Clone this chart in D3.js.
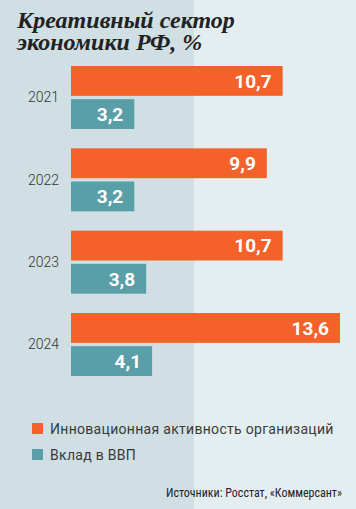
<!DOCTYPE html>
<html><head><meta charset="utf-8">
<script src="https://cdn.jsdelivr.net/npm/d3@7"></script>
<style>html,body{margin:0;padding:0;background:#e4eef0;}svg{display:block;}</style>
</head><body>
<script>
const years = ["2021","2022","2023","2024"];
const innovation = [10.7, 9.9, 10.7, 13.6];
const gdpShare = [3.2, 3.2, 3.8, 4.1];
const seriesNames = ["Инновационная активность организаций","Вклад в ВВП"];
const seriesColors = ["#f4622a","#5a9ea7"];
const titleLines = ["Креативный сектор","экономики РФ, %"];
const sourceText = "Источники: Росстат, «Коммерсант»";

const W = 356, H = 509;
const svg = d3.select("body").append("svg").attr("width", W).attr("height", H);
svg.append("rect").attr("width", W).attr("height", H).attr("fill", "#e4eef0");
svg.append("rect").attr("width", 194).attr("height", H).attr("fill", "#cfdfe3");

const title = svg.append("text")
  .attr("font-family", "'Liberation Serif', serif").attr("font-style","italic").attr("font-weight","bold")
  .attr("font-size", 24).attr("fill", "#222");
title.selectAll("tspan").data(titleLines).join("tspan")
  .attr("x", 17).attr("y", (d,i) => 28 + i*22).text(d => d);

const x = d3.scaleLinear().domain([0, 13.6]).range([71, 340]);
const y = d3.scaleBand().domain(years).range([66, 376]).paddingInner(0.235).paddingOuter(0);
const ySub = d3.scaleBand().domain([0,1]).range([0, y.bandwidth()]).paddingInner(0.1);

const rows = years.map((yr,i) => ({yr, vals:[innovation[i], gdpShare[i]]}));
const g = svg.selectAll("g.row").data(rows).join("g").attr("transform", d => `translate(0,${y(d.yr)})`);
g.append("text").attr("x", 59).attr("y", y.bandwidth()/2).attr("dy","0.35em")
  .attr("text-anchor","end").attr("font-family","Roboto, sans-serif").attr("font-weight",300)
  .attr("font-size", 14).attr("fill","#333").text(d => d.yr);
const bars = g.selectAll("g.bar").data(d => d.vals.map((v,k)=>({v,k}))).join("g");
bars.append("rect").attr("x", x(0)).attr("y", d => ySub(d.k))
  .attr("width", d => x(d.v) - x(0)).attr("height", ySub.bandwidth())
  .attr("fill", d => seriesColors[d.k]);
bars.append("text").attr("x", d => x(d.v) - 11).attr("y", d => ySub(d.k) + ySub.bandwidth()/2)
  .attr("dy","0.36em").attr("text-anchor","end").attr("font-family","Roboto, sans-serif")
  .attr("font-weight","bold").attr("font-size",19).attr("fill","#fff")
  .text(d => String(d.v.toFixed(1)).replace(".", ","));

const lg = svg.selectAll("g.leg").data(seriesNames).join("g")
  .attr("transform", (d,i) => `translate(32,${423 + i*26})`);
lg.append("rect").attr("width", 11).attr("height", 11).attr("fill", (d,i) => seriesColors[i]);
lg.append("text").attr("x", 18).attr("y", 5.5).attr("dy","0.36em")
  .attr("font-family","Roboto, sans-serif").attr("font-size", 14).attr("letter-spacing", 0.3)
  .attr("fill","#3a3a3a").text(d => d);

svg.append("text").attr("x", 342).attr("y", 497).attr("text-anchor","end")
  .attr("font-family","'Roboto Condensed', 'Liberation Sans Narrow', Roboto, sans-serif")
  .attr("font-size", 12).attr("fill","#222")
  .attr("textLength", 176).attr("lengthAdjust","spacingAndGlyphs")
  .text(sourceText);
</script>
</body></html>
